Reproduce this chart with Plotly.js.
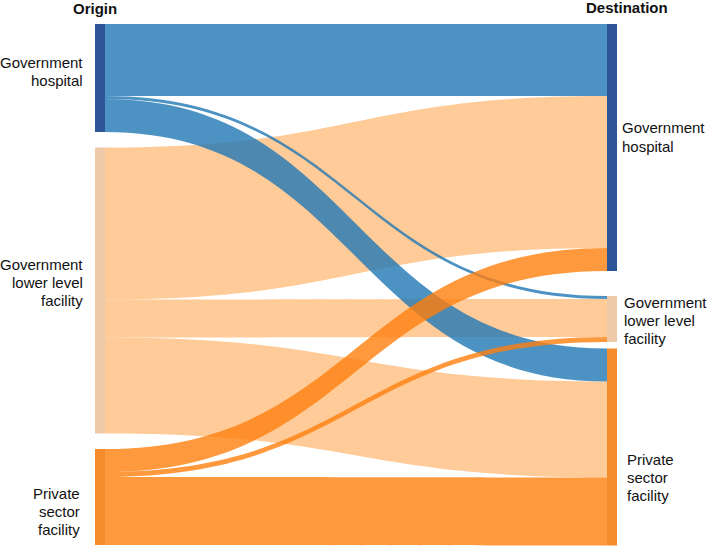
<!DOCTYPE html>
<html>
<head>
<meta charset="utf-8">
<script src="https://cdn.plot.ly/plotly-3.0.1.min.js"></script>
<style>
  html, body { margin: 0; padding: 0; background: #fff; }
  #myDiv { width: 709px; height: 548px; }
</style>
</head>
<body>
<div id="myDiv"></div>
<script>
// nodes: 0-2 origin, 3-5 destination
var nodeNames = ['Government hospital', 'Government lower level facility', 'Private sector facility',
                 'Government hospital', 'Government lower level facility', 'Private sector facility'];
var nodeLines = [['Government', 'hospital'], ['Government', 'lower level', 'facility'], ['Private', 'sector', 'facility'],
                 ['Government', 'hospital'], ['Government', 'lower level', 'facility'], ['Private', 'sector', 'facility']];
var nodeColors = ['#2E5597', '#EFCAA9', '#F58C2B', '#2E5597', '#EFCAA9', '#F58C2B'];

// flows (drawn in this order)
var linkSource = [1, 1, 1, 0, 0, 0, 2, 2, 2];
var linkTarget = [3, 4, 5, 3, 4, 5, 3, 4, 5];
var linkValue  = [152, 38, 96, 72, 3, 33, 23, 5, 68];
var linkColors = ['rgba(255,160,70,0.55)', 'rgba(255,160,70,0.55)', 'rgba(255,160,70,0.55)',
                  'rgba(31,119,180,0.8)', 'rgba(31,119,180,0.8)', 'rgba(31,119,180,0.8)',
                  'rgba(255,127,14,0.8)', 'rgba(255,127,14,0.8)', 'rgba(255,127,14,0.8)'];

var W = 709, H = 548;
var dx0 = 95, dx1 = 617, dy0 = 24, dy1 = 545;
var dw = dx1 - dx0, dh = dy1 - dy0;
var thick = 10;

// node centres in pixels (from the picture)
var nodeCx = [dx0 + 5, dx0 + 5, dx0 + 5, dx1 - 5, dx1 - 5, dx1 - 5];
var nodeCy = [78, 290.5, 497, 147.5, 319, 447];

// label placement: anchor x and first line centre
var labelX = [85, 85, 82, 620, 622, 625];
var labelY = [62, 264, 493, 128, 302, 459];
var lineStep = 18;

var trace1 = {
  type: 'sankey',
  arrangement: 'fixed',
  domain: {x: [dx0 / W, dx1 / W], y: [1 - dy1 / H, 1 - dy0 / H]},
  node: {
    label: nodeNames.map(function () { return ''; }),
    customdata: nodeNames,
    hovertemplate: '%{customdata}<extra></extra>',
    color: nodeColors,
    line: {width: 0},
    thickness: thick,
    pad: 15.5,
    x: nodeCx.map(function (v) { return (v - dx0) / dw; }),
    y: nodeCy.map(function (v) { return (v - dy0) / dh; })
  },
  link: {
    source: linkSource,
    target: linkTarget,
    value: linkValue,
    color: linkColors
  }
};

var lblFont = {family: 'Liberation Sans, Arial, sans-serif', size: 15, color: '#111'};
var ttlFont = {family: 'Liberation Sans, Arial, sans-serif', size: 15, color: '#111', weight: 'bold'};

function ann(text, x, y, xanchor, font) {
  return {text: text, x: x / W, y: 1 - y / H, xref: 'paper', yref: 'paper',
          xanchor: xanchor, yanchor: 'middle', align: xanchor === 'right' ? 'right' : 'left',
          showarrow: false, font: font};
}

var annotations = [
  ann('<b>Origin</b>', 95, 9, 'center', ttlFont),
  ann('<b>Destination</b>', 627, 8, 'center', ttlFont)
];
nodeLines.forEach(function (lines, i) {
  lines.forEach(function (t, j) {
    annotations.push(ann(t, labelX[i], labelY[i] + j * lineStep, i < 3 ? 'right' : 'left', lblFont));
  });
});

var layout = {
  width: W,
  height: H,
  margin: {l: 0, r: 0, t: 0, b: 0},
  paper_bgcolor: '#fff',
  showlegend: false,
  annotations: annotations
};

var plotDiv = document.getElementById('myDiv');

Plotly.newPlot(plotDiv, [trace1], layout, {displayModeBar: false});
</script>
</body>
</html>
